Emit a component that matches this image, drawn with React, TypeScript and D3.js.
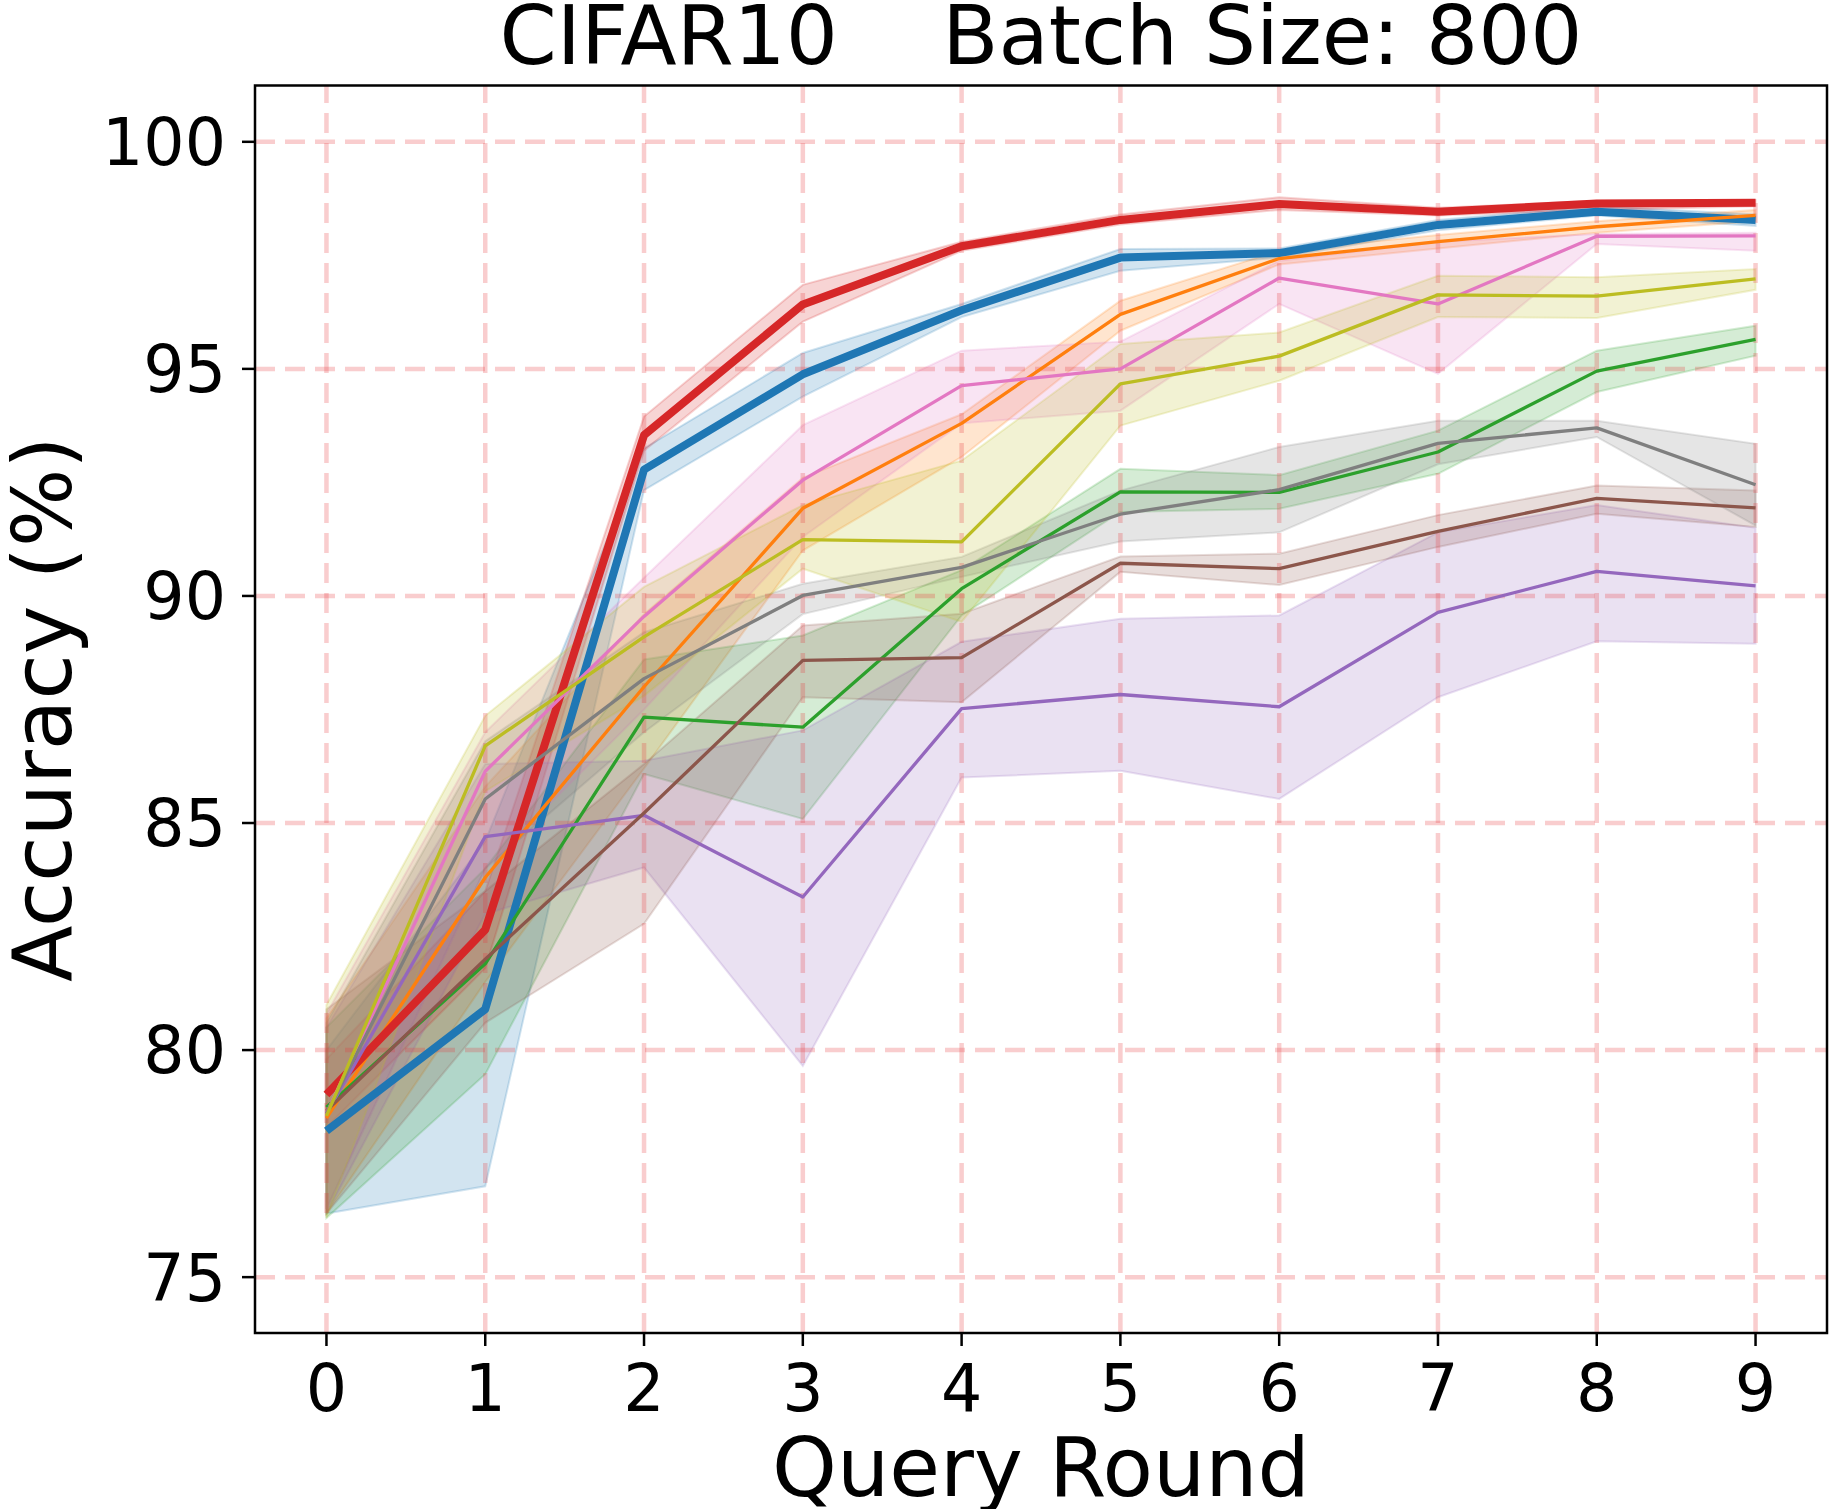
import React, { useEffect, useRef } from "react";
import * as d3 from "d3";

// query rounds on the x axis
const ROUNDS = [0, 1, 2, 3, 4, 5, 6, 7, 8, 9];
const Y_TICKS = [75, 80, 85, 90, 95, 100];

// mean accuracy per round
const blueMean = [78.22, 80.9, 92.78, 94.88, 96.29, 97.45, 97.55, 98.17, 98.46, 98.28];
const orangeMean = [78.5, 83.8, 88.0, 91.93, 93.8, 96.2, 97.43, 97.8, 98.13, 98.38];
const greenMean = [78.74, 81.9, 87.33, 87.11, 90.16, 92.29, 92.28, 93.17, 94.95, 95.65];
const redMean = [79.02, 82.65, 93.54, 96.42, 97.7, 98.28, 98.63, 98.46, 98.64, 98.66];
const purpleMean = [78.6, 84.7, 85.17, 83.37, 87.52, 87.83, 87.56, 89.64, 90.54, 90.22];
const brownMean = [78.66, 82.0, 85.22, 88.58, 88.64, 90.72, 90.6, 91.42, 92.15, 91.94];
const pinkMean = [78.6, 86.14, 89.55, 92.55, 94.63, 95.0, 97.0, 96.43, 97.92, 97.93];
const grayMean = [78.6, 85.53, 88.18, 90.01, 90.63, 91.8, 92.34, 93.36, 93.7, 92.45];
const oliveMean = [78.55, 86.7, 89.1, 91.24, 91.19, 94.67, 95.28, 96.63, 96.6, 96.98];

// shaded band (lower / upper)
const blueLow = [76.4, 77.0, 92.33, 94.39, 96.14, 97.16, 97.45, 98.05, 98.38, 98.15];
const blueHigh = [80.0, 84.6, 93.25, 95.35, 96.43, 97.64, 97.65, 98.28, 98.58, 98.4];
const orangeLow = [76.4, 81.5, 86.2, 91.0, 93.06, 95.84, 97.3, 97.65, 98.0, 98.25];
const orangeHigh = [80.7, 85.8, 89.6, 92.6, 94.0, 96.5, 97.6, 97.95, 98.25, 98.5];
const greenLow = [76.3, 79.47, 86.08, 85.09, 89.57, 91.85, 91.92, 92.69, 94.49, 95.29];
const greenHigh = [80.5, 84.0, 88.6, 89.13, 90.57, 92.8, 92.66, 93.64, 95.4, 95.95];
const redLow = [78.3, 81.8, 93.2, 96.04, 97.6, 98.18, 98.5, 98.38, 98.5, 98.58];
const redHigh = [79.8, 83.5, 93.95, 96.85, 97.8, 98.4, 98.78, 98.55, 98.7, 98.72];
const purpleLow = [76.4, 83.0, 84.02, 79.65, 86.0, 86.15, 85.53, 87.77, 89.0, 88.95];
const purpleHigh = [80.5, 86.3, 86.37, 87.04, 88.99, 89.5, 89.57, 91.4, 92.0, 91.5];
const brownLow = [76.4, 80.6, 82.78, 87.77, 87.66, 90.53, 90.24, 91.08, 91.81, 91.52];
const brownHigh = [80.9, 83.5, 86.3, 89.35, 89.61, 90.87, 90.93, 91.78, 92.43, 92.32];
const pinkLow = [76.5, 84.0, 87.5, 91.3, 93.8, 94.08, 96.43, 94.89, 97.75, 97.6];
const pinkHigh = [80.8, 87.0, 90.4, 93.76, 95.4, 95.6, 97.38, 97.8, 97.97, 98.0];
const grayLow = [76.5, 84.0, 87.0, 89.6, 90.42, 91.2, 91.4, 92.9, 93.5, 91.55];
const grayHigh = [80.6, 86.8, 89.2, 90.27, 90.86, 92.32, 93.28, 93.86, 93.86, 93.35];
const oliveLow = [76.3, 85.7, 87.8, 90.6, 89.43, 93.75, 94.74, 96.14, 96.12, 96.74];
const oliveHigh = [81.0, 87.36, 90.2, 92.0, 92.98, 95.55, 95.8, 97.05, 97.02, 97.2];

type Series = { color: string; mean: number[]; low: number[]; high: number[]; thick: boolean };

const SERIES: Series[] = [
  { color: "#1f77b4", mean: blueMean, low: blueLow, high: blueHigh, thick: true },
  { color: "#ff7f0e", mean: orangeMean, low: orangeLow, high: orangeHigh, thick: false },
  { color: "#2ca02c", mean: greenMean, low: greenLow, high: greenHigh, thick: false },
  { color: "#d62728", mean: redMean, low: redLow, high: redHigh, thick: true },
  { color: "#9467bd", mean: purpleMean, low: purpleLow, high: purpleHigh, thick: false },
  { color: "#8c564b", mean: brownMean, low: brownLow, high: brownHigh, thick: false },
  { color: "#e377c2", mean: pinkMean, low: pinkLow, high: pinkHigh, thick: false },
  { color: "#7f7f7f", mean: grayMean, low: grayLow, high: grayHigh, thick: false },
  { color: "#bcbd22", mean: oliveMean, low: oliveLow, high: oliveHigh, thick: false },
];

const W = 1836;
const H = 1509;
const FONT = "'DejaVu Sans', sans-serif";

const App = () => {
  const ref = useRef<SVGSVGElement | null>(null);

  useEffect(() => {
    const svg = d3.select(ref.current);
    svg.selectAll("*").remove();

    const left = 255, right = 1827, top = 85.5, bottom = 1333;
    const x = d3.scaleLinear().domain([-0.45, 9.45]).range([left, right]);
    const y = d3.scaleLinear().domain([73.77, 101.24]).range([bottom, top]);

    svg.append("rect").attr("width", W).attr("height", H).attr("fill", "white");

    svg.append("defs").append("clipPath").attr("id", "plot-clip")
      .append("rect").attr("x", left).attr("y", top).attr("width", right - left).attr("height", bottom - top);

    const plot = svg.append("g").attr("clip-path", "url(#plot-clip)");

    // shaded bands first
    SERIES.forEach((s) => {
      const area = d3.area<number>()
        .x((d, i) => x(ROUNDS[i]))
        .y0((d, i) => y(s.low[i]))
        .y1((d, i) => y(s.high[i]));
      plot.append("path")
        .datum(s.mean)
        .attr("d", area)
        .attr("fill", s.color)
        .attr("fill-opacity", 0.2)
        .attr("stroke", s.color)
        .attr("stroke-opacity", 0.2)
        .attr("stroke-width", 2);
    });

    // dashed grid sits above the bands, below the lines
    const grid = plot.append("g")
      .attr("stroke", "#e8393b")
      .attr("stroke-opacity", 0.25)
      .attr("stroke-width", 4.5)
      .attr("stroke-dasharray", "20,10");
    ROUNDS.forEach((r) => {
      grid.append("line").attr("x1", x(r)).attr("x2", x(r)).attr("y1", bottom).attr("y2", top);
    });
    Y_TICKS.forEach((t) => {
      grid.append("line").attr("x1", left).attr("x2", right).attr("y1", y(t)).attr("y2", y(t));
    });

    SERIES.forEach((s) => {
      const line = d3.line<number>()
        .x((d, i) => x(ROUNDS[i]))
        .y((d) => y(d));
      plot.append("path")
        .datum(s.mean)
        .attr("d", line)
        .attr("fill", "none")
        .attr("stroke", s.color)
        .attr("stroke-width", s.thick ? 8 : 3.3)
        .attr("stroke-linejoin", "round");
    });

    // spines
    svg.append("rect")
      .attr("x", left).attr("y", top)
      .attr("width", right - left).attr("height", bottom - top)
      .attr("fill", "none").attr("stroke", "black").attr("stroke-width", 2.5);

    // ticks
    const ticks = svg.append("g").attr("stroke", "black").attr("stroke-width", 2.5);
    ROUNDS.forEach((r) => {
      ticks.append("line").attr("x1", x(r)).attr("x2", x(r)).attr("y1", bottom).attr("y2", bottom + 13);
    });
    Y_TICKS.forEach((t) => {
      ticks.append("line").attr("x1", left).attr("x2", left - 13).attr("y1", y(t)).attr("y2", y(t));
    });

    svg.append("g").selectAll("text").data(ROUNDS).join("text")
      .attr("x", (d) => x(d)).attr("y", 1411)
      .attr("text-anchor", "middle")
      .style("font-family", FONT).style("font-size", "65px")
      .text((d) => d);

    svg.append("g").selectAll("text").data(Y_TICKS).join("text")
      .attr("x", 226).attr("y", (d) => y(d)).attr("dy", "0.36em")
      .attr("text-anchor", "end")
      .style("font-family", FONT).style("font-size", "65px")
      .text((d) => d);

    svg.append("text")
      .attr("x", 1041).attr("y", 64)
      .attr("text-anchor", "middle")
      .style("font-family", FONT).style("font-size", "82px").style("white-space", "pre")
      .text("CIFAR10    Batch Size: 800");

    svg.append("text")
      .attr("x", 1041).attr("y", 1496)
      .attr("text-anchor", "middle")
      .style("font-family", FONT).style("font-size", "82.5px")
      .text("Query Round");

    svg.append("text")
      .attr("transform", `translate(71, ${(top + bottom) / 2}) rotate(-90)`)
      .attr("text-anchor", "middle")
      .style("font-family", FONT).style("font-size", "82.5px")
      .text("Accuracy (%)");
  }, []);

  return (
    <div style={{ position: "absolute", left: 0, top: 0 }}>
      <svg ref={ref} width={W} height={H} style={{ display: "block" }} />
    </div>
  );
};

export default App;
